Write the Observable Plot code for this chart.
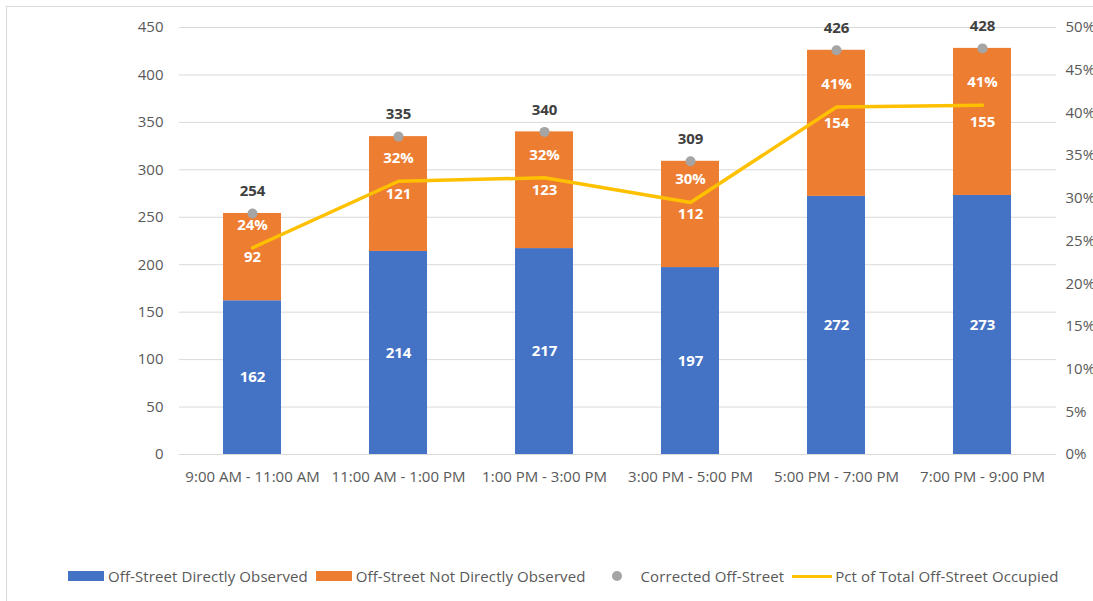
<!DOCTYPE html>
<html>
<head>
<meta charset="utf-8">
<script src="https://cdn.jsdelivr.net/npm/d3@7"></script>
<script src="https://cdn.jsdelivr.net/npm/@observablehq/plot@0.6"></script>
<style>
  html, body { margin: 0; padding: 0; background: #fff; overflow: hidden; }
  body { width: 1093px; height: 601px; position: relative; font-family: "Open Sans", sans-serif; }
  #frame { position: absolute; left: 6px; top: 6px; width: 1120px; height: 640px; border: 1px solid #d9d9d9; box-sizing: border-box; }
  #chart { position: absolute; left: 0; top: 0; }
  #legend { position: absolute; left: 68px; top: 566px; display: flex; align-items: center; font-size: 15px; color: #595959; white-space: nowrap; letter-spacing: 0.1px; }
  .item { display: flex; align-items: center; margin-right: 8px; }
  .sw { width: 36px; height: 10px; margin-right: 4px; }
  .dot { width: 10px; height: 10px; border-radius: 50%; background: #a5a5a5; margin: 0 19px 0 18px; }
  .ln { width: 40px; height: 3px; background: #ffc000; margin-right: 3px; }
</style>
</head>
<body>
<div id="frame"></div>
<div id="chart"></div>
<div id="legend"></div>
<script>
// Time slots and off-street counts
const slots = ["9:00 AM - 11:00 AM", "11:00 AM - 1:00 PM", "1:00 PM - 3:00 PM", "3:00 PM - 5:00 PM", "5:00 PM - 7:00 PM", "7:00 PM - 9:00 PM"];
const directlyObserved = [162, 214, 217, 197, 272, 273];
const notDirectlyObserved = [92, 121, 123, 112, 154, 155];
const corrected = [254, 335, 340, 309, 426, 428];
// Share of total off-street supply occupied (%)
const pctOccupied = [24.2, 32.0, 32.4, 29.5, 40.7, 40.9];

const leftTicks = [0, 50, 100, 150, 200, 250, 300, 350, 400, 450];
const rightTicks = [0, 5, 10, 15, 20, 25, 30, 35, 40, 45, 50];
const pctScale = 9; // 50% on the right axis lines up with 450 on the left

const seriesNames = ["Off-Street Directly Observed", "Off-Street Not Directly Observed"];
const seriesColors = ["#4472c4", "#ed7d31"];

const stacked = slots.flatMap((s, i) => [
  {slot: s, series: seriesNames[0], value: directlyObserved[i]},
  {slot: s, series: seriesNames[1], value: notDirectlyObserved[i]}
]);
const totals = slots.map((s, i) => ({slot: s, total: corrected[i], pct: pctOccupied[i]}));

const chart = Plot.plot({
  width: 1093,
  height: 500,
  marginTop: 27,
  marginBottom: 46,
  marginLeft: 179,
  marginRight: 37,
  style: {fontFamily: "'Open Sans', sans-serif", fontSize: "15px", color: "#595959", background: "transparent"},
  x: {domain: slots, paddingInner: 0.6, paddingOuter: 0.3, label: null},
  y: {domain: [0, 450], label: null},
  color: {domain: seriesNames, range: seriesColors},
  marks: [
    Plot.gridY(leftTicks, {stroke: "#d9d9d9", strokeOpacity: 1, strokeWidth: 1}),
    Plot.axisY({ticks: leftTicks, tickSize: 0, tickPadding: 16, label: null, fill: "#595959", fontSize: 15}),
    Plot.axisY(rightTicks.map(t => t * pctScale), {anchor: "right", tickSize: 0, tickPadding: 9, label: null, tickFormat: d => Math.round(d / pctScale) + "%", fill: "#595959", fontSize: 15}),
    Plot.axisX({tickSize: 0, tickPadding: 17, label: null, fill: "#595959", fontSize: 15}),
    Plot.barY(stacked, {x: "slot", y: "value", fill: "series", order: seriesNames}),
    Plot.text(stacked, Plot.stackY({x: "slot", y: "value", z: "series", order: seriesNames, text: d => String(d.value), fill: "white", fontWeight: "bold", fontSize: 15})),
    Plot.line(totals, {x: "slot", y: d => d.pct * pctScale, stroke: "#ffc000", strokeWidth: 3.5}),
    Plot.text(totals, {x: "slot", y: d => d.pct * pctScale, dy: -23, text: d => Math.round(d.pct) + "%", fill: "white", fontWeight: "bold", fontSize: 15}),
    Plot.dot(totals, {x: "slot", y: "total", r: 5, fill: "#a5a5a5"}),
    Plot.text(totals, {x: "slot", y: "total", dy: -22, text: d => String(d.total), fill: "#404040", fontWeight: "bold", fontSize: 15})
  ]
});
document.getElementById("chart").appendChild(chart);

// Legend
const legend = document.getElementById("legend");
legend.innerHTML =
  `<div class="item"><div class="sw" style="background:${seriesColors[0]}"></div>${seriesNames[0]}</div>` +
  `<div class="item"><div class="sw" style="background:${seriesColors[1]}"></div>${seriesNames[1]}</div>` +
  `<div class="item"><div class="dot"></div>Corrected Off-Street</div>` +
  `<div class="item"><div class="ln"></div>Pct of Total Off-Street Occupied</div>`;
</script>
</body>
</html>
